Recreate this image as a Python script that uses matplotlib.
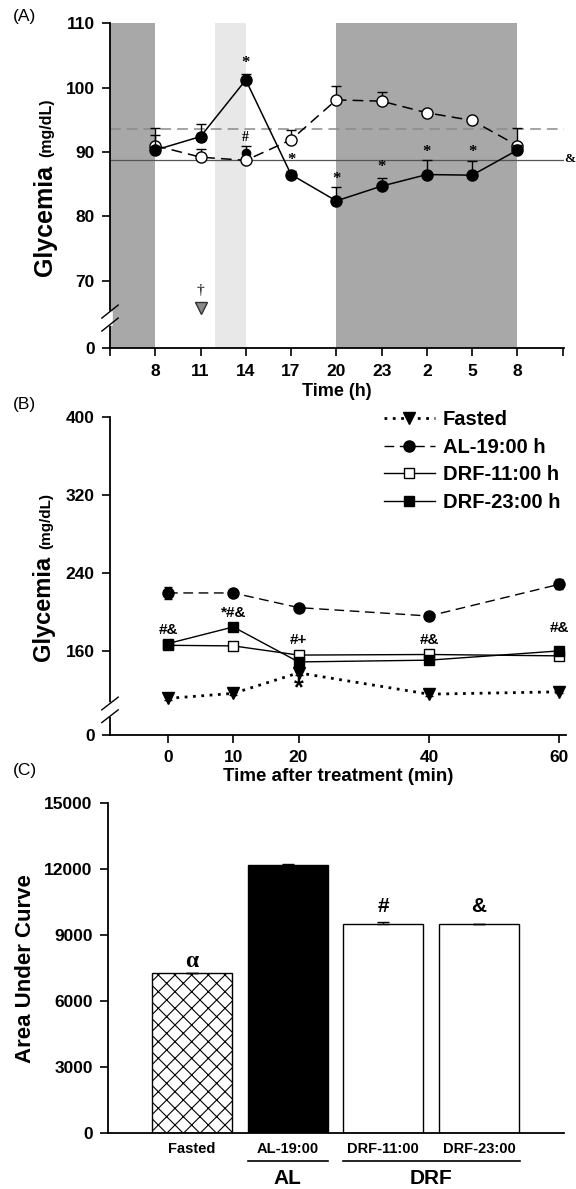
import numpy as np
import matplotlib
matplotlib.use("Agg")
import matplotlib.pyplot as plt

plt.rcParams['font.family'] = ['Liberation Sans', 'DejaVu Sans']
plt.rcParams['font.weight'] = 'bold'
plt.rcParams['hatch.linewidth'] = 0.8

# --- DATA: panel A (24 h profile) ---
hours_a = ['8', '11', '14', '17', '20', '23', '2', '5', '8']
filled_a = [90.3, 92.4, 101.2, 86.5, 82.4, 84.7, 86.5, 86.4, 90.3]
filled_a_err = [2.3, 2.0, 0.9, 0.5, 2.1, 1.3, 2.2, 2.2, 0.8]
open_a = [91.0, 89.2, 88.7, 91.9, 98.1, 97.9, 96.1, 94.9, 91.0]
open_a_err = [2.8, 1.2, 2.3, 1.5, 2.2, 1.4, 0.3, 0.3, 2.8]
blob_a = [89.9]          # dark mark behind open circle at 14 h
fasted_a = [65.7]        # grey triangle at 11 h
mean_filled_a = 88.7
mean_open_a = 93.5
stars_a_idx = [2, 3, 4, 5, 6, 7]
stars_a_y = [103.8, 88.7, 85.8, 87.6, 90.0, 90.0]

# --- DATA: panel B (glucose tolerance) ---
t_b = [0, 10, 20, 40, 60]
fasted_b = [111.7, 116.8, 137.8, 116.0, 118.4]
fasted_b_err = [1.5, 1.5, 2.0, 1.5, 1.5]
al_b = [219.6, 219.6, 204.6, 196.0, 228.5]
al_b_err = [6.0, 3.0, 2.0, 2.0, 5.0]
drf11_b = [166.0, 165.4, 156.0, 156.6, 155.2]
drf11_b_err = [2.0, 2.0, 2.0, 2.0, 2.0]
drf23_b = [167.8, 184.8, 149.0, 150.8, 160.3]
drf23_b_err = [3.0, 2.0, 2.0, 2.0, 2.0]
marks_b = ['#&', '*#&', '#+', '#&', '#&']
marks_b_y = [181.5, 198.8, 171.0, 171.0, 183.5]

# --- DATA: panel C (area under curve) ---
groups_c = ['Fasted', 'AL-19:00', 'DRF-11:00', 'DRF-23:00']
auc_c = [7300, 12195, 9500, 9500]
auc_c_err = [0, 60, 120, 30]
marks_c = ['α', '', '#', '&']
marks_c_y = [7800, 0, 10330, 10300]

W, H = 576, 1189
fig = plt.figure(figsize=(W / 100, H / 100), dpi=100)


def px_axes(left, top, right, bottom):
    return fig.add_axes([left / W, 1 - bottom / H, (right - left) / W, (bottom - top) / H])


def style(ax):
    ax.spines['top'].set_visible(False)
    ax.spines['right'].set_visible(False)
    ax.spines['left'].set_linewidth(1.3)
    ax.spines['bottom'].set_linewidth(1.3)
    ax.tick_params(direction='out', length=6, width=1.2, labelsize=12.5, pad=5)


def axis_break(ax, yfrac):
    # white gap in the spine plus two slashes
    ax.plot([0, 0], [yfrac - 0.014, yfrac + 0.014], transform=ax.transAxes,
            color='white', lw=4, clip_on=False, zorder=10)
    for dy in (-0.02, 0.02):
        ax.plot([-0.018, 0.018], [yfrac + dy - 0.02, yfrac + dy + 0.02],
                transform=ax.transAxes, color='k', lw=1, clip_on=False, zorder=11)


# ---------------- Panel A ----------------
ax = px_axes(110, 23.3, 564, 348.3)
style(ax)
x = np.arange(len(hours_a))
ax.axvspan(-1, 0, color='#a8a8a8', lw=0, zorder=0)
ax.axvspan(1.33, 2, color='#e8e8e8', lw=0, zorder=0)
ax.axvspan(4, 8, color='#a8a8a8', lw=0, zorder=0)
ax.axhline(mean_open_a, xmin=0, xmax=1.0, color='#8a8a8a', lw=1.1, dashes=(7, 4), zorder=1)
ax.axhline(mean_filled_a, xmin=0, xmax=1.0, color='#555555', lw=0.9, zorder=1)

zero = np.zeros(len(x))
ax.errorbar(x, open_a, yerr=[zero, open_a_err], fmt='none', ecolor='k', elinewidth=1,
            capsize=3.5, capthick=1, zorder=3)
ax.plot(x, open_a, color='k', lw=1.1, dashes=(7, 4), zorder=3)
ax.plot([2], blob_a, 'o', color='k', ms=6, zorder=3.5)
ax.plot(x, open_a, 'o', mfc='white', mec='k', mew=1, ms=8, zorder=4)
ax.errorbar(x, filled_a, yerr=[zero, filled_a_err], fmt='none', ecolor='k', elinewidth=1,
            capsize=3.5, capthick=1, zorder=5)
ax.plot(x, filled_a, '-o', color='k', lw=1.1, ms=8, zorder=6)
ax.plot([1], fasted_a, 'v', mfc='#8a8a8a', mec='#333333', ms=8, zorder=6)
ax.text(1, fasted_a[0] + 2.8, '†', ha='center', va='center', fontsize=11,
        family='Liberation Serif', fontweight='normal')

for i, yv in zip(stars_a_idx, stars_a_y):
    ax.text(i, yv, '*', ha='center', va='center', fontsize=12, family='Liberation Serif')
ax.text(2, 92.3, '#', ha='center', va='center', fontsize=10, family='Liberation Serif')
fig.text(575 / W, 1 - 159 / H, '&', ha='right', va='center', fontsize=9.5,
         family='Liberation Serif', fontweight='bold')

ax.set_xlim(-1, 9.03)
ax.set_ylim(59.5, 110)
ax.set_xticks(list(range(-1, 10)))
ax.set_xticklabels([''] + hours_a + [''])
ax.set_yticks([59.5, 70, 80, 90, 100, 110])
ax.set_yticklabels(['0', '70', '80', '90', '100', '110'])
ax.set_xlabel('Time (h)', fontsize=13, fontweight='bold', labelpad=3)
axis_break(ax, 0.093)
fig.text(45 / W, 1 - 221 / H, 'Glycemia', rotation=90, ha='center', va='center',
         fontsize=18, fontweight='bold')
fig.text(47 / W, 1 - 128 / H, '(mg/dL)', rotation=90, ha='center', va='center',
         fontsize=11.5, fontweight='bold')
fig.text(13 / W, 1 - 16 / H, '(A)', ha='left', va='center', fontsize=12.5, fontweight='normal')

# ---------------- Panel B ----------------
ax = px_axes(110, 416.7, 566, 735)
style(ax)
ax.errorbar(t_b, fasted_b, yerr=fasted_b_err, fmt='none', ecolor='k', elinewidth=1, capsize=3)
ax.errorbar(t_b, al_b, yerr=al_b_err, fmt='none', ecolor='k', elinewidth=1, capsize=3)
ax.errorbar(t_b, drf11_b, yerr=drf11_b_err, fmt='none', ecolor='k', elinewidth=1, capsize=3)
ax.errorbar(t_b, drf23_b, yerr=drf23_b_err, fmt='none', ecolor='k', elinewidth=1, capsize=3)
h1, = ax.plot(t_b, fasted_b, color='k', lw=2, ls=(0, (1, 2)), marker='v', ms=8, label='Fasted')
h2, = ax.plot(t_b, al_b, color='k', lw=1, dashes=(7, 4), marker='o', ms=8, label='AL-19:00 h')
h3, = ax.plot(t_b, drf11_b, color='k', lw=1, marker='s', mfc='white', mec='k', ms=7.5,
              label='DRF-11:00 h')
h4, = ax.plot(t_b, drf23_b, color='k', lw=1, marker='s', ms=7.5, label='DRF-23:00 h')
for t, s, yv in zip(t_b, marks_b, marks_b_y):
    ax.text(t, yv, s, ha='center', va='center', fontsize=11, fontweight='bold')
ax.text(20, 122, '*', ha='center', va='center', fontsize=18, fontweight='bold')
ax.legend(handles=[h1, h2, h3, h4], loc='upper right', bbox_to_anchor=(1.005, 1.045),
          frameon=False, handlelength=2.5, handletextpad=0.4,
          labelspacing=0.42, borderaxespad=0,
          prop={'weight': 'bold', 'size': 14.5})
ax.set_xlim(-8.9, 61)
ax.set_ylim(74.2, 399.5)
ax.set_xticks(t_b)
ax.set_yticks([74.2, 160, 240, 320, 400])
ax.set_yticklabels(['0', '160', '240', '320', '400'])
ax.set_xlabel('Time after treatment (min)', fontsize=13.5, fontweight='bold', labelpad=2)
axis_break(ax, 0.079)
fig.text(43 / W, 1 - 608 / H, 'Glycemia', rotation=90, ha='center', va='center',
         fontsize=17, fontweight='bold')
fig.text(46 / W, 1 - 521 / H, '(mg/dL)', rotation=90, ha='center', va='center',
         fontsize=11, fontweight='bold')
fig.text(13 / W, 1 - 405 / H, '(B)', ha='left', va='center', fontsize=12.5, fontweight='normal')

# ---------------- Panel C ----------------
ax = px_axes(108, 803.3, 564, 1133.3)
style(ax)
xc = np.arange(len(groups_c))
bw = 0.836
ax.bar(xc[0], auc_c[0], bw, color='white', edgecolor='k', hatch='xx', lw=1)
ax.bar(xc[1], auc_c[1], bw, color='black', edgecolor='k', lw=1)
ax.bar(xc[2:], auc_c[2:], bw, color='white', edgecolor='k', lw=1)
ax.errorbar(xc, auc_c, yerr=[np.zeros(4), auc_c_err], fmt='none', ecolor='k',
            elinewidth=1, capsize=4)
for i, (s, yv) in enumerate(zip(marks_c, marks_c_y)):
    if s == 'α':
        ax.text(i, yv, s, ha='center', va='center', fontsize=17, fontweight='bold',
                family='Liberation Serif')
    elif s:
        ax.text(i, yv, s, ha='center', va='center', fontsize=15, fontweight='bold')
ax.set_xlim(-0.878, 3.888)
ax.set_ylim(0, 15000)
ax.set_yticks([0, 3000, 6000, 9000, 12000, 15000])
ax.set_xticks(xc)
ax.set_xticklabels(groups_c, fontsize=10.5)
ax.tick_params(axis='x', length=0, pad=6)
ax.set_ylabel('Area Under Curve', fontsize=16, fontweight='bold', labelpad=6)
trans = ax.get_xaxis_transform()
ax.plot([1 - 0.418, 1 + 0.418], [-0.083, -0.083], transform=trans, color='k', lw=1.2,
        clip_on=False)
ax.plot([2 - 0.42, 3 + 0.43], [-0.083, -0.083], transform=trans, color='k', lw=1.2,
        clip_on=False)
ax.text(1, -0.138, 'AL', transform=trans, ha='center', va='center', fontsize=15,
        fontweight='bold')
ax.text(2.5, -0.138, 'DRF', transform=trans, ha='center', va='center', fontsize=15,
        fontweight='bold')
fig.text(13 / W, 1 - 770 / H, '(C)', ha='left', va='center', fontsize=12.5, fontweight='normal')

fig.savefig('out.png', dpi=100)
